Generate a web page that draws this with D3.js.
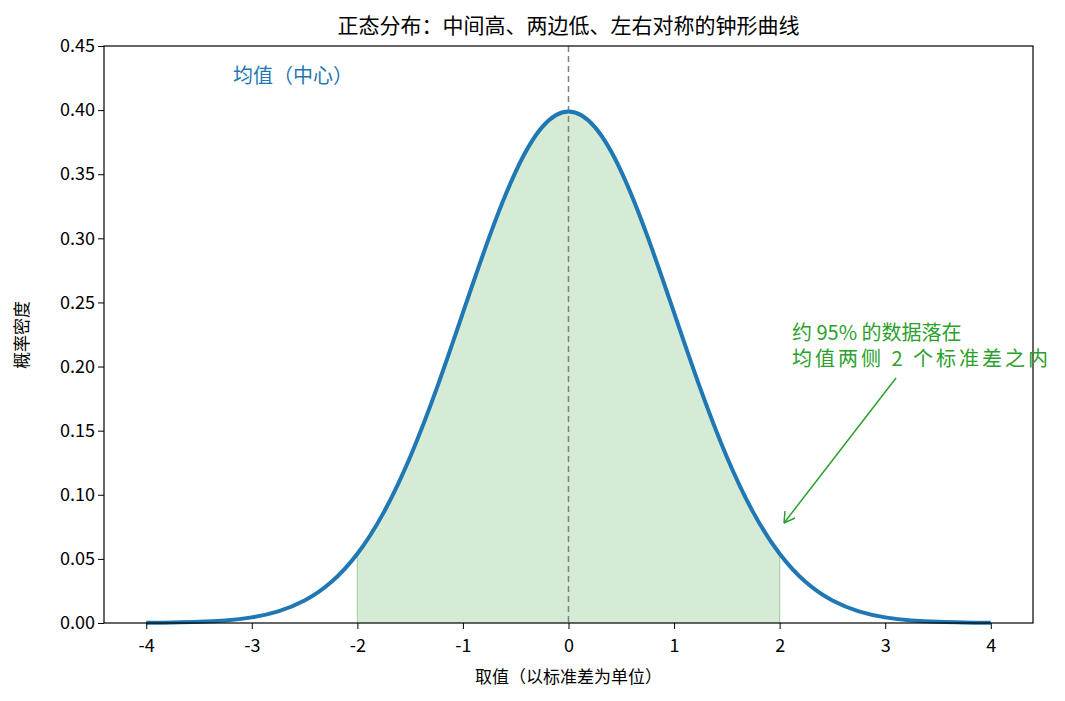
<!DOCTYPE html>
<html><head><meta charset="utf-8">
<script src="https://cdn.jsdelivr.net/npm/d3@7"></script>
<style>body{margin:0;background:#fff}text{font-family:"Noto Sans CJK SC","Noto Sans",sans-serif}</style>
</head><body><svg id="c" width="1065" height="701"></svg>
<script>
const xs = [-4,-3.75,-3.5,-3.25,-3,-2.75,-2.5,-2.25,-2,-1.75,-1.5,-1.25,-1,-0.75,-0.5,-0.25,0,0.25,0.5,0.75,1,1.25,1.5,1.75,2,2.25,2.5,2.75,3,3.25,3.5,3.75,4];
const ys = [0.0001,0.0004,0.0009,0.0020,0.0044,0.0091,0.0175,0.0317,0.0540,0.0863,0.1295,0.1826,0.2420,0.3011,0.3521,0.3867,0.3989,0.3867,0.3521,0.3011,0.2420,0.1826,0.1295,0.0863,0.0540,0.0317,0.0175,0.0091,0.0044,0.0020,0.0009,0.0004,0.0001];
const xTicks = [-4,-3,-2,-1,0,1,2,3,4];
const yTicks = [0,0.05,0.1,0.15,0.2,0.25,0.3,0.35,0.4,0.45];
const pts = xs.map((x,i)=>({x,y:ys[i]}));
const svg = d3.select("#c");
const L=104,R=1033,T=46,B=623;
const x = d3.scaleLinear().domain([-4.4,4.4]).range([L,R]);
const y = d3.scaleLinear().domain([0,0.45]).range([B,T]);
const band = pts.filter(p=>p.x>=-2&&p.x<=2);
svg.append("path").datum(band).attr("fill","#d5ebd5")
  .attr("d",d3.area().x(d=>x(d.x)).y0(y(0)).y1(d=>y(d.y)).curve(d3.curveNatural));
[-2,2].forEach(v=>svg.append("line").attr("x1",x(v)).attr("x2",x(v)).attr("y1",y(0)).attr("y2",y(0.054)).attr("stroke","#a8d5a8").attr("stroke-width",1.2));
svg.append("line").attr("x1",x(0)).attr("x2",x(0)).attr("y1",T).attr("y2",B).attr("stroke","#808080").attr("stroke-width",1.5).attr("stroke-dasharray","6,4");
svg.append("path").datum(pts).attr("fill","none").attr("stroke","#1f77b4").attr("stroke-width",4)
  .attr("d",d3.line().x(d=>x(d.x)).y(d=>y(d.y)).curve(d3.curveNatural));
const xa = svg.append("g").attr("transform",`translate(0,${B})`).call(d3.axisBottom(x).tickValues(xTicks).tickFormat(d=>String(d)).tickSize(6));
const ya = svg.append("g").attr("transform",`translate(${L},0)`).call(d3.axisLeft(y).tickValues(yTicks).tickFormat(d3.format(".2f")).tickSize(6));
[xa,ya].forEach(g=>{g.select(".domain").remove();g.selectAll("text").attr("font-size",18).attr("fill","#000");g.selectAll("line").attr("stroke","#000");});
xa.selectAll("text").attr("dy","1.1em");
svg.append("rect").attr("x",L).attr("y",T).attr("width",R-L).attr("height",B-T).attr("fill","none").attr("stroke","#000").attr("stroke-width",1.2);
svg.append("text").attr("x",(L+R)/2).attr("y",33).attr("text-anchor","middle").attr("font-size",21).text("正态分布：中间高、两边低、左右对称的钟形曲线");
svg.append("text").attr("x",(L+R)/2).attr("y",683).attr("text-anchor","middle").attr("font-size",17).text("取值（以标准差为单位）");
svg.append("text").attr("transform","translate(28,335) rotate(-90)").attr("text-anchor","middle").attr("font-size",17).text("概率密度");
svg.append("text").attr("x",233).attr("y",83).attr("font-size",20).attr("fill","#1f77b4").text("均值（中心）");
const g="#2ca02c";
svg.append("text").attr("x",792).attr("y",340).attr("font-size",20).attr("fill",g).text("约 95% 的数据落在");
svg.append("text").attr("x",792).attr("y",366).attr("font-size",20).attr("fill",g).attr("textLength",256).text("均值两侧 2 个标准差之内");
svg.append("line").attr("x1",896).attr("y1",378).attr("x2",784).attr("y2",523).attr("stroke",g).attr("stroke-width",1.5);
svg.append("path").attr("d","M784,523 l1,-12 M784,523 l11,-5").attr("stroke",g).attr("stroke-width",1.5).attr("fill","none");
</script></body></html>
